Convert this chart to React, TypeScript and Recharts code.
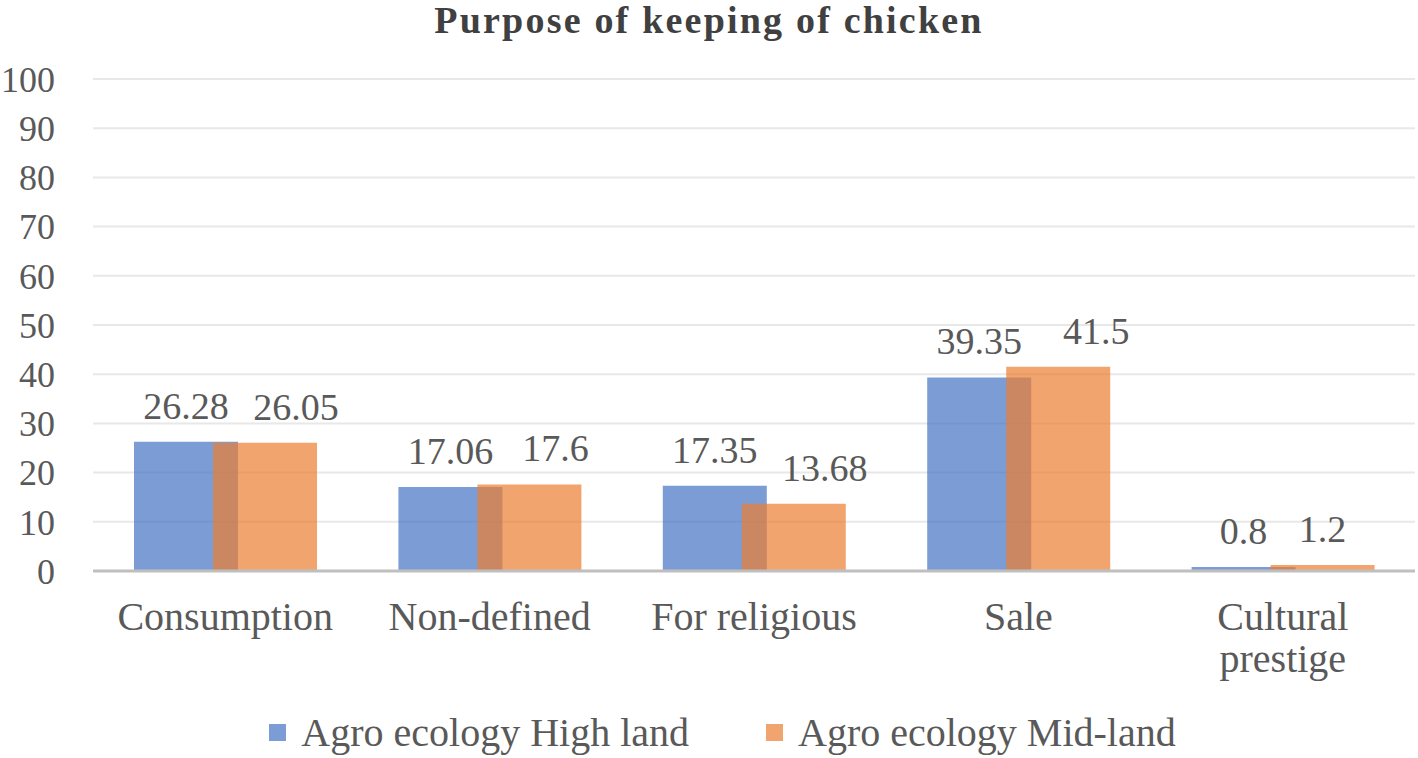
import React from 'react';
import { BarChart, Bar, XAxis, YAxis, CartesianGrid, Legend, LabelList } from 'recharts';

const categories = ['Consumption', 'Non-defined', 'For religious', 'Sale', 'Cultural prestige'];
const highLand = [26.28, 17.06, 17.35, 39.35, 0.8];
const midLand = [26.05, 17.6, 13.68, 41.5, 1.2];
const yTicks = [0, 10, 20, 30, 40, 50, 60, 70, 80, 90, 100];

// the source nudged some value labels sideways so they do not collide
const highLabelNudge = [0, 0, 0, 0, 0];
const midLabelNudge = [31, 26, 31, 38, 0];

const SERIES = [
  { key: 'high', name: 'Agro ecology High land', color: '#4472C4', nudge: highLabelNudge },
  { key: 'mid', name: 'Agro ecology Mid-land', color: '#ED7D31', nudge: midLabelNudge },
];

const FONT = '"Liberation Serif", "Times New Roman", serif';
const TEXT = '#595959';

const data = categories.map((name, i) => ({ name, high: highLand[i], mid: midLand[i] }));

function CategoryTick({ x, y, payload }: any) {
  const label: string = payload.value;
  const lines = label.length > 14 ? label.split(' ') : [label];
  return (
    <text x={x} y={y} textAnchor="middle" fill={TEXT} fontSize={40} fontFamily={FONT}>
      {lines.map((line, i) => (
        <tspan key={i} x={x} dy={i === 0 ? '0.68em' : 42}>
          {line}
        </tspan>
      ))}
    </text>
  );
}

const makeValueLabel = (nudge: number[]) => (props: any) => {
  const { x, y, width, value, index } = props;
  return (
    <text
      x={Number(x) + Number(width) / 2 + (nudge[index] ?? 0)}
      y={Number(y) - 23}
      textAnchor="middle"
      fill={TEXT}
      fontSize={38}
      fontFamily={FONT}
    >
      {value}
    </text>
  );
};

function LegendContent() {
  return (
    <div
      style={{
        height: 48,
        display: 'flex',
        justifyContent: 'center',
        alignItems: 'center',
        gap: 77,
        fontFamily: FONT,
        fontSize: 40,
        color: TEXT,
        paddingLeft: 30,
      }}
    >
      {SERIES.map((s) => (
        <div key={s.key} style={{ display: 'flex', alignItems: 'center' }}>
          <span
            style={{
              width: 17,
              height: 17,
              background: s.color,
              opacity: 0.7,
              marginRight: 15,
              display: 'inline-block',
            }}
          />
          <span>{s.name}</span>
        </div>
      ))}
    </div>
  );
}

export default function App() {
  return (
    <div style={{ position: 'absolute', left: 0, top: 0, width: 1418, height: 758, background: '#fff' }}>
      <div
        style={{
          position: 'absolute',
          top: 1,
          left: 0,
          width: 1418,
          textAlign: 'center',
          fontFamily: FONT,
          fontWeight: 'bold',
          fontSize: 38,
          lineHeight: '38px',
          letterSpacing: 2.2,
          color: '#404040',
        }}
      >
        Purpose of keeping of chicken
      </div>
      <BarChart
        width={1418}
        height={758}
        data={data}
        margin={{ top: 79, right: 3, bottom: 0, left: 0 }}
        barGap={-25}
      >
        <CartesianGrid vertical={false} stroke="#E8E8E8" strokeWidth={2} />
        <XAxis
          dataKey="name"
          axisLine={{ stroke: '#BFBFBF', strokeWidth: 3 }}
          tickLine={false}
          tickSize={0}
          tickMargin={32}
          height={139}
          interval={0}
          tick={<CategoryTick />}
        />
        <YAxis
          domain={[0, 100]}
          ticks={yTicks}
          width={93}
          axisLine={false}
          tickLine={false}
          tickSize={0}
          tickMargin={38}
          tick={{ fill: TEXT, fontSize: 36, fontFamily: FONT }}
        />
        <Legend verticalAlign="bottom" content={<LegendContent />} wrapperStyle={{ bottom: 2 }} />
        {SERIES.map((s) => (
          <Bar
            key={s.key}
            dataKey={s.key}
            name={s.name}
            fill={s.color}
            fillOpacity={0.7}
            barSize={104}
            isAnimationActive={false}
          >
            <LabelList dataKey={s.key} content={makeValueLabel(s.nudge)} />
          </Bar>
        ))}
      </BarChart>
    </div>
  );
}
